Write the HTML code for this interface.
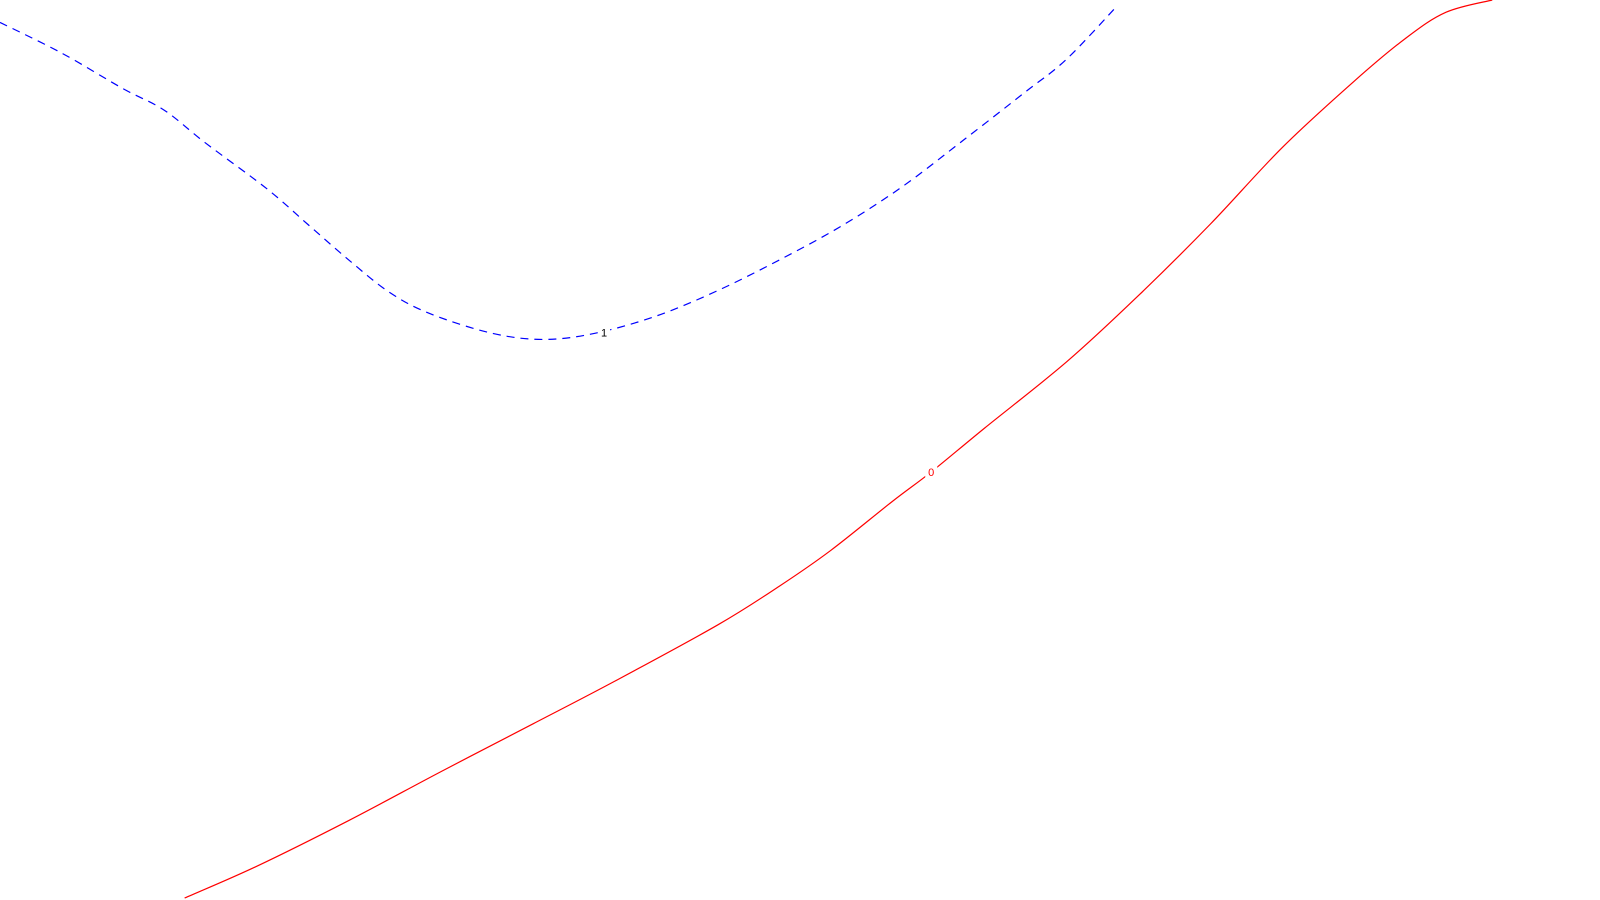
<!DOCTYPE html>
<html><head><meta charset="utf-8"><style>
html,body{margin:0;padding:0;background:#fff;width:1600px;height:900px;overflow:hidden}
svg{display:block}
</style></head><body>
<svg id="chart" width="1600" height="900" viewBox="0 0 1600 900"></svg>
<script>
// contour level 0 (red, solid) — points in data units
const redX = [180,250,340,430,520,600,700,760,810,870,908,960,1040,1110,1180,1250,1320,1370,1410,1455];
const redY = [881,850,805,757,710,668,613,575,540,492,463,420,355,290,220,145,80,38,12,0];
// contour level 1 (blue, dashed)
const blueX = [0,60,120,160,200,260,300,340,380,420,480,530,580,640,700,760,820,880,940,1000,1040,1090];
const blueY = [22,52,87,108,140,185,220,255,287,308,327,333,327,310,285,255,222,183,137,90,58,5];
const levels = ["0","1"];
const labelPos = [[908,463],[589,326]];

const sx = v => v * 1.0256;
const sy = v => v * 1.0193;
const NS = "http://www.w3.org/2000/svg";
const svg = document.getElementById('chart');

function pathFrom(xs, ys) {
  const p = xs.map((x,i)=>[sx(x), sy(ys[i])]);
  let d = `M${p[0][0]},${p[0][1]}`;
  for (let i=0;i<p.length-1;i++){
    const p0=p[Math.max(0,i-1)],p1=p[i],p2=p[i+1],p3=p[Math.min(p.length-1,i+2)];
    const c1=[p1[0]+(p2[0]-p0[0])/6,p1[1]+(p2[1]-p0[1])/6];
    const c2=[p2[0]-(p3[0]-p1[0])/6,p2[1]-(p3[1]-p1[1])/6];
    d+=` C${c1[0]},${c1[1]} ${c2[0]},${c2[1]} ${p2[0]},${p2[1]}`;
  }
  return d;
}

// mask to cut gaps under labels
const defs = document.createElementNS(NS,'defs');
const mask = document.createElementNS(NS,'mask');
mask.setAttribute('id','labelmask');
const full = document.createElementNS(NS,'rect');
full.setAttribute('x',0); full.setAttribute('y',0); full.setAttribute('width',1600); full.setAttribute('height',900); full.setAttribute('fill','#fff');
mask.appendChild(full);
labelPos.forEach(lp=>{
  const r = document.createElementNS(NS,'rect');
  r.setAttribute('x', sx(lp[0])-6); r.setAttribute('y', sy(lp[1])-7);
  r.setAttribute('width',12); r.setAttribute('height',13); r.setAttribute('fill','#000');
  mask.appendChild(r);
});
defs.appendChild(mask);
svg.appendChild(defs);

const red = document.createElementNS(NS,'path');


red.setAttribute('d', pathFrom(redX, redY));
red.setAttribute('fill','none'); red.setAttribute('stroke','#ff0000'); red.setAttribute('stroke-width','1.2');
red.setAttribute('mask','url(#labelmask)');
svg.appendChild(red);

const blue = document.createElementNS(NS,'path');


blue.setAttribute('d', pathFrom(blueX, blueY));
blue.setAttribute('fill','none'); blue.setAttribute('stroke','#0000ff'); blue.setAttribute('stroke-width','1.2');
blue.setAttribute('stroke-dasharray','8,6');
blue.setAttribute('mask','url(#labelmask)');
svg.appendChild(blue);

const colors = ['#ff0000','#000000'];
levels.forEach((lv,i)=>{
  const x = sx(labelPos[i][0]), y = sy(labelPos[i][1]);
  const t = document.createElementNS(NS,'text');
  
  
  t.setAttribute('x', x); t.setAttribute('y', y+4);
  t.setAttribute('text-anchor','middle');
  t.setAttribute('font-family','Liberation Sans, sans-serif');
  t.setAttribute('font-size','11');
  t.setAttribute('fill', colors[i]);
  t.textContent = lv;
  svg.appendChild(t);
});
</script>
</body></html>
